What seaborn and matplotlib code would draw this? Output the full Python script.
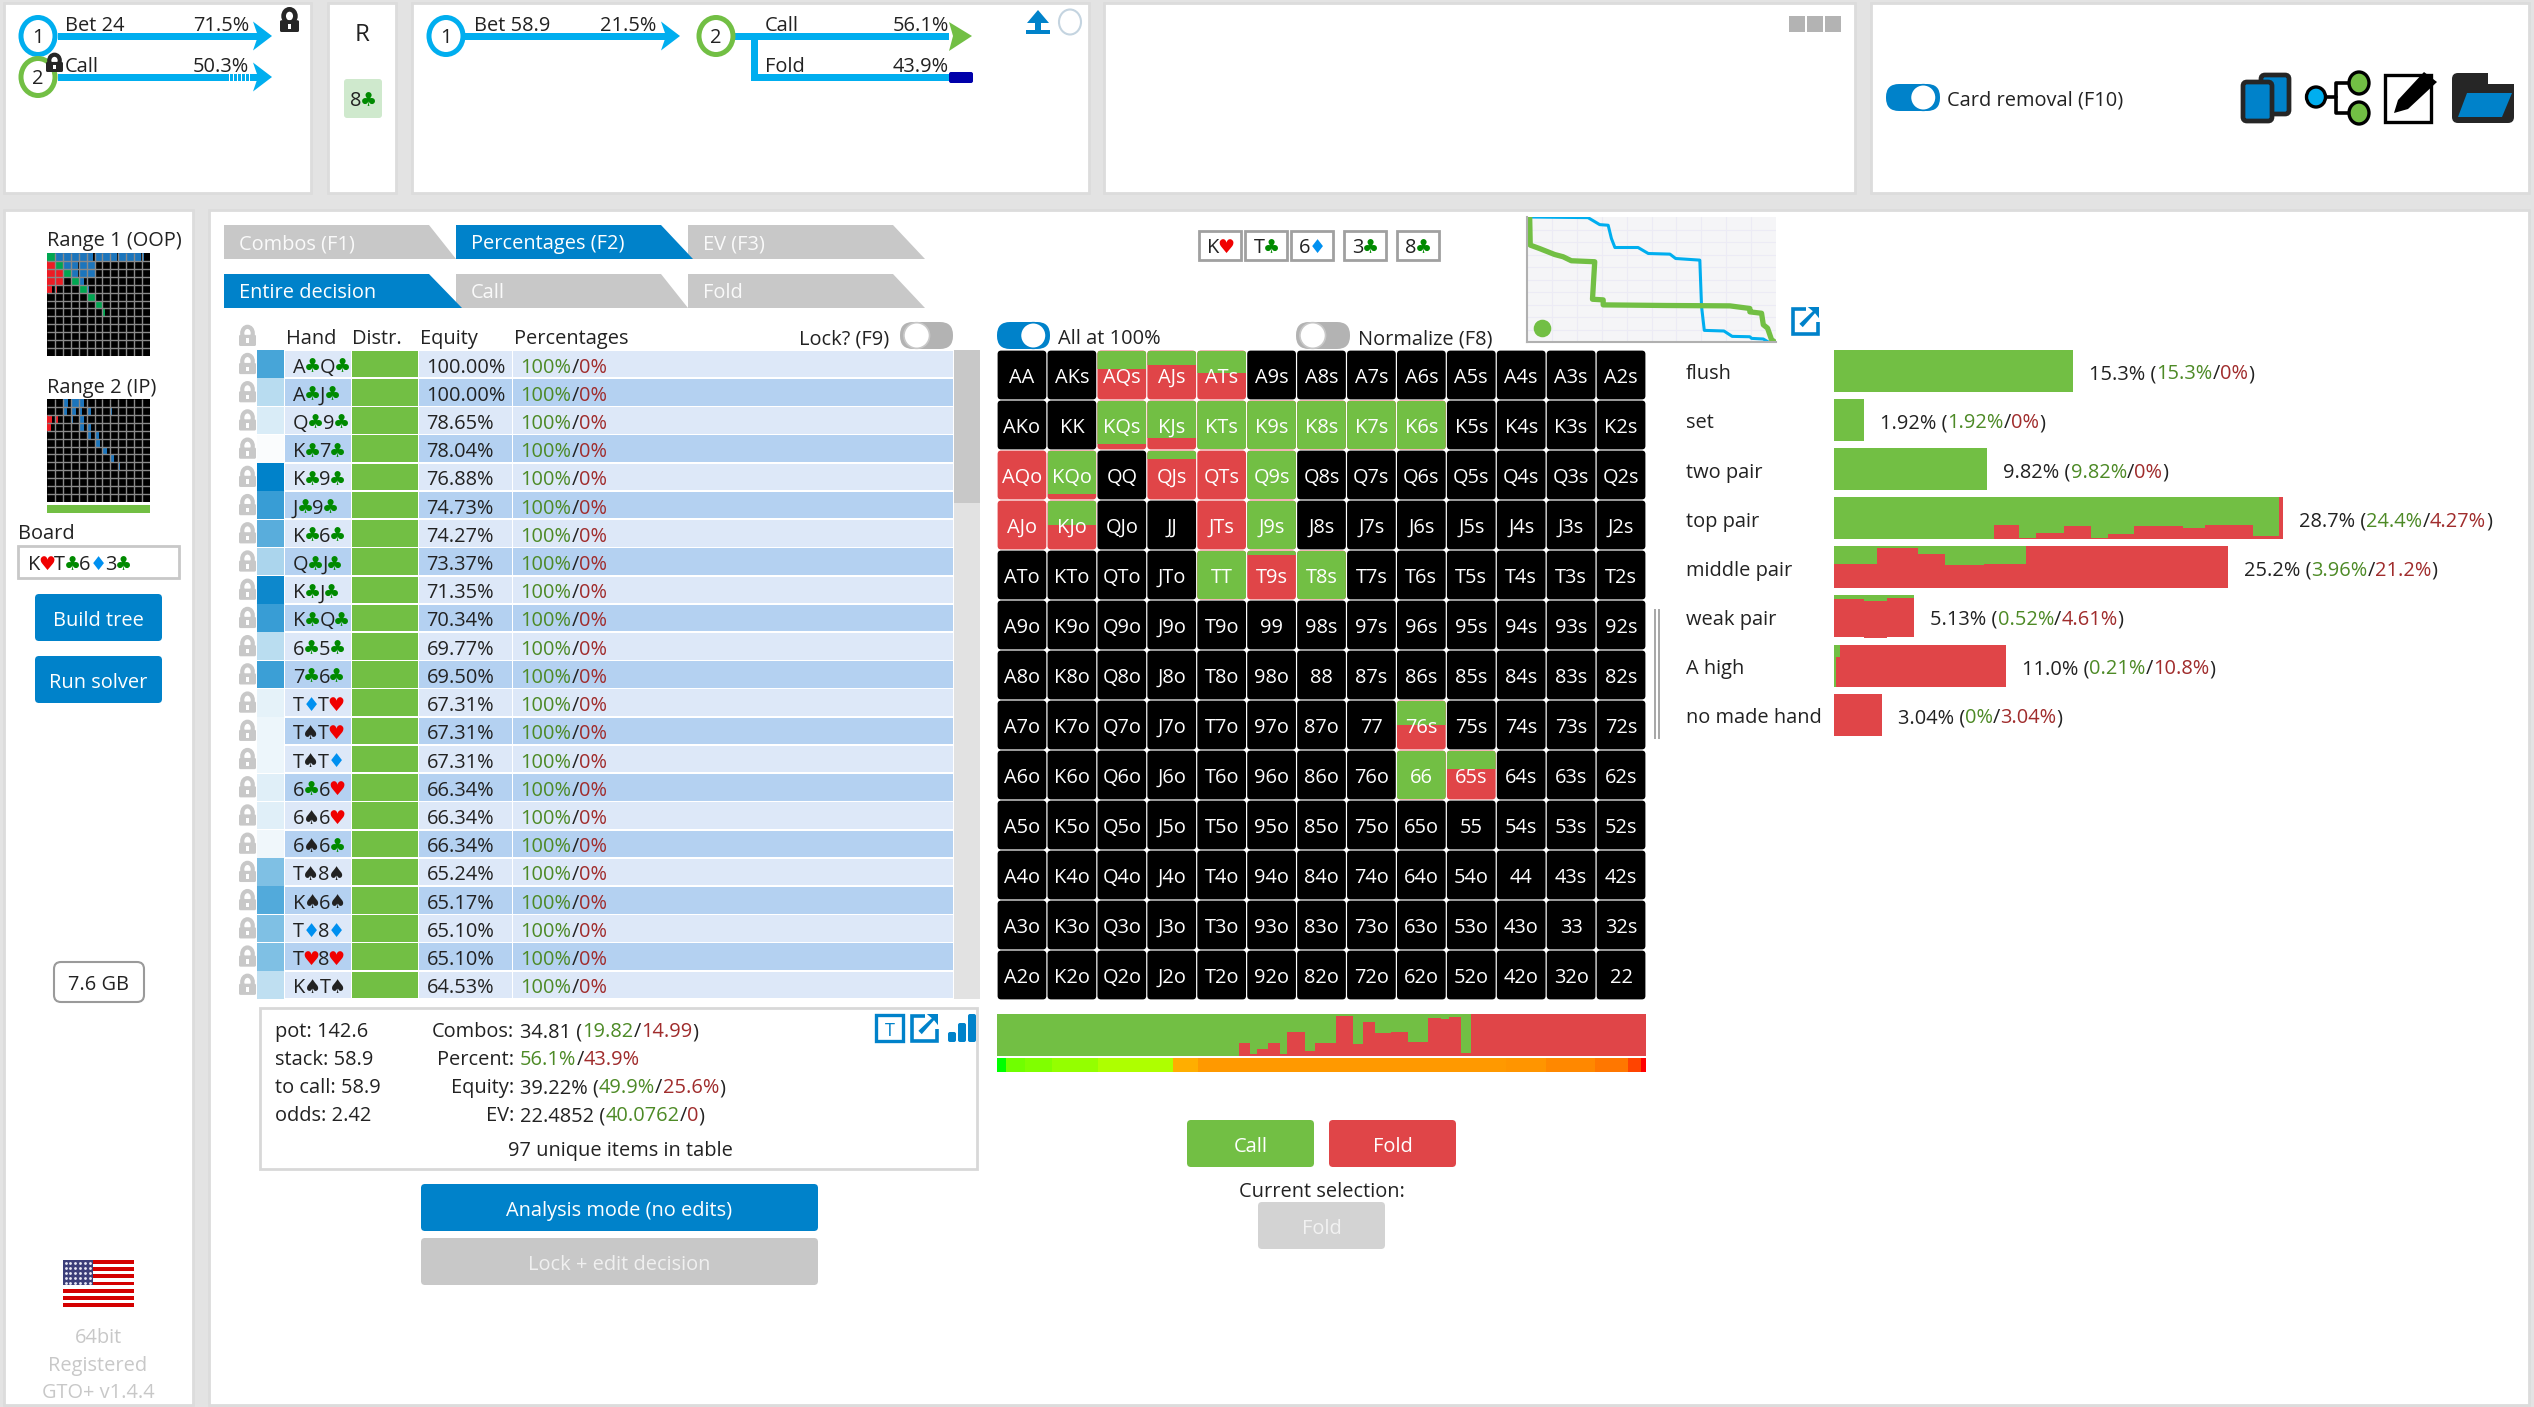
import numpy as np
import matplotlib
matplotlib.use("Agg")
import matplotlib.pyplot as plt
import seaborn as sns
from matplotlib.patches import Rectangle, FancyBboxPatch, Polygon, Ellipse
from matplotlib.colors import ListedColormap

# ---------------- data ----------------
ranks = list("AKQJT98765432")
call_share = {(0,2):.37,(0,3):.30,(0,4):.45,(1,2):.88,(1,3):.76,(1,4):1,(1,5):1,(1,6):1,(1,7):1,(1,8):1,
              (2,0):0,(2,1):.88,(2,3):.18,(2,4):0,(2,5):1,(3,0):0,(3,1):.49,(3,4):0,(3,5):1,
              (4,4):1,(4,5):.08,(4,6):1,(7,8):.49,(8,8):1,(8,9):.38}
hands = ["A♣Q♣","A♣J♣","Q♣9♣","K♣7♣","K♣9♣","J♣9♣","K♣6♣","Q♣J♣","K♣J♣","K♣Q♣","6♣5♣","7♣6♣",
         "T♦T♥","T♠T♥","T♠T♦","6♣6♥","6♠6♥","6♠6♣","T♠8♠","K♠6♠","T♦8♦","T♥8♥","K♠T♠"]
equities = ["100.00%","100.00%","78.65%","78.04%","76.88%","74.73%","74.27%","73.37%","71.35%","70.34%",
            "69.77%","69.50%","67.31%","67.31%","67.31%","66.34%","66.34%","66.34%","65.24%","65.17%",
            "65.10%","65.10%","64.53%"]
hand_weight = [.72,.28,.15,.02,1.0,.78,.65,.33,.95,.78,.27,.77,.10,.07,.07,.12,.12,.06,.50,.68,.50,.50,.25]
hand_pct = ["100%/0%"] * len(hands)

cat_names = ["flush","set","two pair","top pair","middle pair","weak pair","A high","no made hand"]
cat_total = ["15.3%","1.92%","9.82%","28.7%","25.2%","5.13%","11.0%","3.04%"]
cat_call = ["15.3%","1.92%","9.82%","24.4%","3.96%","0.52%","0.21%","0%"]
cat_fold = ["0%","0%","0%","4.27%","21.2%","4.61%","10.8%","3.04%"]
cat_edges = [[0,15.3],[0,1.92],[0,9.82],
             [0,10.24,11.86,12.94,14.71,16.44,17.52,19.18,22.32,23.76,26.83,28.49,28.74],
             [0,2.78,5.37,7.07,9.59,12.26,25.2],[0,1.95,3.39,5.13],[0,.14,.4,11.0],[0,3.04]]
cat_red = [[0],[0],[0],[0,.33,.04,.16,.31,.04,.12,.31,.28,.33,.07,1],
           [.59,.96,.81,.55,.59,1],[.92,.88,.93],[0,.7,1],[1]]

strat_edges = [0,37.3,39.0,40.0,41.7,43.6,44.7,47.4,49.0,52.2,54.9,56.4,58.2,60.7,63.3,66.4,68.4,69.7,71.5,73.0,100]
strat_red = [0,.32,.04,.16,.30,.04,.58,.11,.31,.95,.28,.81,.55,.58,.33,.90,.88,.93,.07,1]
eq_edges = [0,1.4,4.3,8.4,15.6,27.1,30.9,78.4,84.6,92.1,97.3,99.2,100]
eq_colors = ["#00ff00","#70ff00","#80ff00","#94ff00","#aeff00","#ffae00","#ff9900","#ff9500","#ff8800","#ff7700","#ff4400","#ff0000"]

curve_blue_x = [1.07,24.5,29.2,32.6,33.9,35.3,44.6,48.7,57.4,59.7,69.4,70.1,71.2,79.1,82.4,89.5,90.2,94.9,96.9]
curve_blue_y = [100,99.5,93.9,93.4,82.8,75.6,75.6,70.8,70.3,66.8,65.5,28.4,9.3,8.8,4.5,4.2,2.9,2.4,0]
curve_green_x = [1.07,1.3,5.0,11.1,14.5,17.8,27.2,26.3,30.6,30.6,56,81.5,89.5,89.5,94.2,94.9,96.6,98.2,99.5]
curve_green_y = [100,77.5,74.8,70,68.2,65,64.2,34.2,33.7,29.7,29.2,28.9,26.8,24.1,23,13.8,11.1,1.9,0]

range1 = np.zeros((13,13))
range1[0,:] = [1,1,1,1,1,.85,1,1,.8,1,1,.85,.3]
range1[1,:9] = [1,1,1,.9,1,1,0,0,.1]
range1[2,:6] = [1,1,1,.85,1,1]
range1[3,:5] = [1,1,.1,1,.7]
range1[4,:6] = [.65,.25,0,.2,1,.3]
range1[5,5] = 1; range1[6,6] = 1; range1[7,7] = .3; range1[8,8] = .1
range2 = np.zeros((13,13))
range2[0,:5] = [0,0,.65,1,.65]
range2[1,:9] = [0,0,.5,.6,.4,.6,.15,.1,.25]
range2[2,:6] = [.65,.4,0,.25,.65,.1]
range2[3,:6] = [.55,.1,0,0,.65,.6]
range2[4,4:7] = [.1,.5,.5]
range2[5,5:7] = [.2,.65]
range2[6,6:8] = [.2,.55]
range2[7,8] = .5
range2[8,8:10] = [.1,.25]

# ---------------- style ----------------
W, H = 2534, 1407
BLUE = "#0082ca"; SKY = "#00aeef"; GREEN = "#72bf44"; RED = "#e04548"
INK = "#222222"; TG = "#4d8a26"; TR = "#a02c2c"; GRAY = "#c8c8c8"
FS = 20
sns.set_theme(style="white")
plt.rcParams["font.family"] = ["Open Sans", "DejaVu Sans"]
fig = plt.figure(figsize=(W/100, H/100), dpi=100, facecolor="#e3e3e3")
renderer = fig.canvas.get_renderer()

def axes_px(x0, y0, x1, y1, z=1):
    ax = fig.add_axes([x0/W, 1-y1/H, (x1-x0)/W, (y1-y0)/H], zorder=z)
    ax.axis("off")
    return ax

bg = axes_px(0,0,W,H,0); bg.set_xlim(0,W); bg.set_ylim(H,0)
fg = axes_px(0,0,W,H,5); fg.set_xlim(0,W); fg.set_ylim(H,0); fg.patch.set_alpha(0)

def T(x, yc, s, size=FS, color=INK, ha="left", ax=fg):
    return ax.text(x, yc+0.42*size, s, fontsize=size*0.72, color=color, ha=ha, va="baseline", zorder=10)

SUIT = {"♣":"#008a00","♥":"#f00000","♦":"#0090f0","♠":"#222222"}

_cache = {}
def width(s, size=FS):
    if s in SUIT:
        return size*0.70
    k = (s,size)
    if k not in _cache:
        def m(u):
            t = fg.text(0,0,u,fontsize=size*0.72); w = t.get_window_extent(renderer).width; t.remove(); return w
        _cache[k] = m("x"+s+"x") - m("xx")
    return _cache[k]

def rich(x, yc, parts, size=FS, ha="left"):
    if ha == "right":
        x -= sum(width(s,size) for s,_ in parts)
    elif ha == "center":
        x -= sum(width(s,size) for s,_ in parts)/2
    for s,c in parts:
        if s in SUIT:
            T(x+size*.35,yc,s,size*.96,c,ha="center")
        else:
            T(x,yc,s,size,c)
        x += width(s,size)

def hand_parts(h):
    return [(c, SUIT.get(c,INK)) for c in h]

def rect(x0,y0,x1,y1,c,ax=bg,ec="none",lw=0,z=1):
    p = Rectangle((x0,y0),x1-x0,y1-y0,fc=c,ec=ec,lw=lw,zorder=z); ax.add_patch(p); return p
def rrect(x0,y0,x1,y1,c,r=4,ax=bg,ec="none",lw=0,z=1):
    p = FancyBboxPatch((x0,y0),x1-x0,y1-y0,boxstyle=f"round,pad=0,rounding_size={r}",fc=c,ec=ec,lw=lw,zorder=z)
    ax.add_patch(p); return p
def poly(pts,c,ax=bg,z=2,ec="none",lw=0):
    p = Polygon(pts,closed=True,fc=c,ec=ec,lw=lw,zorder=z); ax.add_patch(p); return p
def ring(cx,cy,w,h,c,lw=3.6,fc="white",ax=bg,z=3):
    p = Ellipse((cx,cy),w,h,fc=fc,ec=c,lw=lw,zorder=z); ax.add_patch(p); return p

def lock(x0,y0,x1,y1,c,open_=False,ax=bg,z=4,hole="white"):
    w,h = x1-x0,y1-y0
    dy = -0.12*h if open_ else 0
    ring((x0+x1)/2,y0+.36*h+dy,w*.62,h*.64,c,lw=3.0*w/17,fc="none",ax=ax,z=z)
    rrect(x0,y0+.44*h,x1,y1,c,r=1.5,ax=ax,z=z+1)
    rect((x0+x1)/2-w*.06,y0+.62*h,(x0+x1)/2+w*.06,y0+.85*h,hole,ax=ax,z=z+2)

def toggle(x0,y0,x1,y1,on):
    h=y1-y0
    rrect(x0,y0,x1,y1,BLUE if on else "#b3b3b3",r=h/2-.5)
    cx = x1-h*.62 if on else x0+h*.62
    ring(cx,(y0+y1)/2,h*.95,h*.95,BLUE if on else "#c8c8c8",lw=1.2)

def button(x0,y0,x1,y1,c,s,tc="white"):
    rrect(x0,y0,x1,y1,c,r=4)
    T((x0+x1)/2,(y0+y1)/2,s,color=tc,ha="center")

def arrow_line(x0,x1,y,head=True,hc=SKY):
    rect(x0,y-3.5,x1,y+3.5,SKY,z=2)
    if head:
        poly([(x1-7,y-14.5),(x1+12,y),(x1-7,y+14.5),(x1-2,y)],hc)

# ---------------- panels ----------------
for x0,y0,x1,y1 in [(4,3,311,193),(328,3,396,193),(412,3,1089,193),(1104,3,1855,193),(1871,3,2529,193),
                    (4,210,193,1405),(209,210,2529,1405)]:
    rect(x0,y0,x1,y1,"white",ec="#dcdcdc",lw=2,z=0.5)

# ---------------- top tree panel ----------------
arrow_line(58,260,36); arrow_line(58,260,77)
for xx in np.arange(229,252,4):
    rect(xx,73,xx+1,81,"white",z=3)
ring(38,36,34,37,SKY); ring(38,77,34,37,GREEN)
T(38,35,"1",ha="center"); T(38,76,"2",ha="center")
T(65,23,"Bet 24"); T(249,23,"71.5%",ha="right")
T(65,64,"Call"); T(249,64,"50.3%",ha="right")
lock(280,11,299,32,"#262626",open_=True)
lock(46,54,63,72,"#262626")

T(362,31,"R",size=24,ha="center")
rrect(344,79,382,118,"#cfe9cd",r=3)
rich(363,98,hand_parts("8♣"),ha="center")

arrow_line(465,668,36)
ring(446,36,34,37,SKY); T(446,35,"1",ha="center")
T(474,23,"Bet 58.9"); T(656,23,"21.5%",ha="right")
rect(735,32.5,949,39.5,SKY,z=2)
rect(751,36,758,80,SKY,z=2); rect(751,73.5,949,80.5,SKY,z=2)
poly([(949,22),(972,36),(949,51),(953,36)],GREEN)
rrect(949,72,973,83,"#0000aa",r=2)
ring(716,36,34,37,GREEN); T(716,35,"2",ha="center")
T(765,23,"Call"); T(949,23,"56.1%",ha="right")
T(765,64,"Fold"); T(949,64,"43.9%",ha="right")
poly([(1038,10),(1049,23),(1041,23),(1041,30),(1050,30),(1050,34),(1026,34),(1026,30),(1035,30),(1035,23),(1027,23)],BLUE)
ring(1070,22,22,25,"#c4d4e0",lw=1.5)

for x in (1789,1807,1825):
    rect(x,16,x+16,32,"#b3b3b3")
toggle(1886,84,1940,111,True)
T(1947,97,"Card removal (F10)")

# icons
rrect(2261,75,2289,114,BLUE,r=4,ec="#262626",lw=3.4,z=2)
rrect(2243,82,2272,121,BLUE,r=4,ec="#262626",lw=3.4,z=3)
bg.plot([2316,2336,2336,2359],[97,97,83,83],color="black",lw=2.6,zorder=2)
bg.plot([2336,2336,2359],[97,113,113],color="black",lw=2.6,zorder=2)
ring(2316,97,19,20,"black",lw=2.4,fc=SKY); ring(2359,83,20,22,"black",lw=2.4,fc=GREEN); ring(2359,113,20,22,"black",lw=2.4,fc=GREEN)
rect(2385,75,2431,122,"white",ec="black",lw=2.4,z=2)
poly([(2394,113),(2398,100),(2424,72),(2437,82),(2408,109)],"black",z=3)
rrect(2452,73,2514,123,"#262626",r=6,z=2)
rect(2488,73,2516,84,"white",z=2.1)
poly([(2467,93),(2512,93),(2502,117),(2458,117)],BLUE,z=3)

# ---------------- left column ----------------
T(47,238,"Range 1 (OOP)"); T(47,385,"Range 2 (IP)")
for rng,(y0,y1) in zip((range1,range2),((253,356),(399,502))):
    ax = axes_px(47,y0,150,y1)
    sns.heatmap(np.zeros((13,13)),ax=ax,cmap=ListedColormap(["black"]),cbar=False,xticklabels=False,yticklabels=False)
    for i in range(13):
        for j in range(13):
            if rng[i,j] > 0:
                c = "#00a651" if i==j else ("#1c75bc" if j>i else "#ed1c24")
                ax.barh(i+.5,rng[i,j],left=j,height=1,color=c,lw=0)
    ax.hlines(range(1,13),0,13,color="#8a8a8a",lw=1); ax.vlines(range(1,13),0,13,color="#8a8a8a",lw=1)
    ax.set_xlim(0,13); ax.set_ylim(13,0); ax.axis("off")
rect(47,505,150,513,GREEN)
T(18,531,"Board")
rect(18,546,179,578,"white",ec="#c8c8c8",lw=2)
rich(28,562,hand_parts("K♥T♣6♦3♣"))
button(35,594,162,641,BLUE,"Build tree")
button(35,656,162,703,BLUE,"Run solver")
rrect(54,962,144,1002,"white",r=7,ec="#9a9a9a",lw=1.5)
T(99,982,"7.6 GB",ha="center")
# flag
for s in range(13):
    rect(63,1260+s*47/13,134,1260+(s+1)*47/13,"#d40000" if s%2==0 else "white")
rect(63,1260,93,1285,"#3c3f7a",z=2)
for row in range(5):
    for col in range(6):
        bg.plot(65.5+col*4.8,1263+row*5,".",color="#e8e8f4",ms=2,zorder=3)
T(98,1335,"64bit",color=GRAY,ha="center"); T(98,1363,"Registered",color=GRAY,ha="center"); T(98,1390,"GTO+ v1.4.4",color=GRAY,ha="center")

# ---------------- tabs ----------------
TABT = "#fafafa"
def tab(x0,xt,x1,y0,y1,c,s,tc):
    poly([(x0,y0),(xt,y0),(x1,y1),(x0,y1)],c)
    T(x0+15,(y0+y1)/2-1,s,color=tc)
tab(224,429,456,225,259,GRAY,"Combos (F1)",TABT)
tab(688,893,925,225,259,GRAY,"EV (F3)",TABT)
tab(456,661,693,225,259,BLUE,"Percentages (F2)","white")
tab(456,661,688,274,308,GRAY,"Call",TABT)
tab(688,893,925,274,308,GRAY,"Fold",TABT)
tab(224,429,462,274,308,BLUE,"Entire decision","white")

# ---------------- hand table ----------------
lock(239,326,256,346,"#c8c8c8")
T(285.5,336,"Hand"); T(352,336,"Distr."); T(420,336,"Equity"); T(514,336,"Percentages"); T(799,336,"Lock? (F9)")
toggle(900,322,953,349,False)
rect(954,350,980,999,"#e2e2e2"); rect(954,350,980,503,GRAY,z=1.5)
tb = axes_px(257,350,953,999)
tb.set_xlim(257,953); tb.set_ylim(len(hands),0)
rows = np.arange(len(hands))
band = ["#dde8f8" if i%2==0 else "#b4d1f1" for i in rows]
tb.barh(rows+.5,66,left=285,height=.94,color=band,lw=0)
tb.barh(rows+.5,66,left=352,height=.94,color=GREEN,lw=0)
tb.barh(rows+.5,93,left=419,height=.94,color=band,lw=0)
tb.barh(rows+.5,440,left=513,height=.94,color=band,lw=0)
for i,w in enumerate(hand_weight):
    tb.barh(i+.5,27,left=257,height=.98,color=BLUE,alpha=w,lw=0)
rh = 649/len(hands)
for i,(h,e,p) in enumerate(zip(hands,equities,hand_pct)):
    yc = 350+(i+.5)*rh
    lock(239,yc-10,256,yc+10,"#c8c8c8")
    rich(293,yc,hand_parts(h))
    T(426.5,yc,e)
    a,b = p.split("/")
    rich(520.5,yc,[(a,TG),("/",INK),(b,TR)])

# ---------------- info box ----------------
rect(260,1008,977,1169,"white",ec="#d8d8d8",lw=2)
for y,s in zip((1029,1057,1085,1113),("pot: 142.6","stack: 58.9","to call: 58.9","odds: 2.42")):
    T(275,y,s)
info = [("Combos:",[("34.81 (",INK),("19.82",TG),("/",INK),("14.99",TR),(")",INK)]),
        ("Percent:",[("56.1%",TG),("/",INK),("43.9%",TR)]),
        ("Equity:",[("39.22% (",INK),("49.9%",TG),("/",INK),("25.6%",TR),(")",INK)]),
        ("EV:",[("22.4852 (",INK),("40.0762",TG),("/",INK),("0",TR),(")",INK)])]
for y,(lab,parts) in zip((1029,1057,1085,1113),info):
    T(514,y,lab,ha="right"); rich(520,y,parts)
T(620,1148,"97 unique items in table",ha="center")
rect(876,1015,903,1041,"white",ec=BLUE,lw=2.4,z=2); T(889.5,1028,"T",size=18,color=BLUE,ha="center")
def newwin(x0,y0,x1,y1):
    rect(x0+1.5,y0+1.5,x1-1.5,y1-1.5,"white",ec=BLUE,lw=2.6,z=2)
    rect(x0+.55*(x1-x0),y0-1,x1+1,y0+.55*(y1-y0),"white",z=2.1)
    poly([(x0+.6*(x1-x0),y0),(x1,y0),(x1,y0+.4*(y1-y0)),(x1-4,y0+.22*(y1-y0)),(x0+.42*(x1-x0),y0+.72*(y1-y0)),(x0+.3*(x1-x0),y0+.6*(y1-y0)),(x0+.78*(x1-x0),y0+.15*(y1-y0))],BLUE,z=2.2)
newwin(910,1014,938,1042); newwin(1791,307,1819,335)
for x,(t) in zip((948,958,968),(1032,1023,1014)):
    rrect(x,t,x+8,1042,BLUE,r=2)
button(421,1184,818,1231,BLUE,"Analysis mode (no edits)")
button(421,1238,818,1285,GRAY,"Lock + edit decision","#f0f0f0")

# ---------------- 13x13 grid ----------------
toggle(997,322,1050,349,True); T(1058.5,336,"All at 100%")
toggle(1296,322,1350,349,False); T(1358,336,"Normalize (F8)")
for x0,h in zip((1198,1244,1290,1343,1396),("K♥","T♣","6♦","3♣","8♣")):
    rect(x0+1,231,x0+43,259.5,"white",ec="#a0a0a0",lw=2)
    rich(x0+22,245,hand_parts(h),ha="center")
rect(1654,609,1656,739,"#a8a8a8"); rect(1658,609,1660,739,"#a8a8a8")
gr = axes_px(997,350,1646,1000)
gr.set_xlim(0,13); gr.set_ylim(13,0)
for i,a in enumerate(ranks):
    for j,b in enumerate(ranks):
        lab = a+b if i==j else (a+b+"s" if j>i else b+a+"o")
        share = call_share.get((i,j))
        base = "black" if share is None else RED
        clip = FancyBboxPatch((j+.012,i+.012),.976,.976,boxstyle="round,pad=0,rounding_size=.07",fc=base,ec="none",mutation_aspect=1)
        gr.add_patch(clip)
        if share:
            b_ = gr.bar(j+.5,share*.976,bottom=i+.012,width=.976,color=GREEN,lw=0)
            b_[0].set_clip_path(clip)
        T(997+(j+.5)*649/13,350+(i+.5)*50-.5,lab,color="white",ha="center")

# ---------------- strategy bars ----------------
sb = axes_px(997,1014,1646,1056)
sb.set_xlim(0,100); sb.set_ylim(0,1)
sb.bar(0,1,width=100,align="edge",color=GREEN,lw=0)
sb.bar(strat_edges[:-1],strat_red,width=np.diff(strat_edges),align="edge",color=RED,lw=0)
eb = axes_px(997,1058,1646,1072)
eb.set_xlim(0,100); eb.set_ylim(0,1)
eb.bar(eq_edges[:-1],1,width=np.diff(eq_edges),align="edge",color=eq_colors,lw=0)
button(1187,1120,1314,1167,GREEN,"Call")
button(1329,1120,1456,1167,RED,"Fold")
T(1321.5,1189,"Current selection:",ha="center")
button(1258,1202,1385,1249,"#d3d3d3","Fold","#f2f2f2")

# ---------------- equity curve ----------------
cv = axes_px(1527,217,1776,342)
cv.axis("on"); cv.set_facecolor("#f5f5f7")
for s in ("top","right"):
    cv.spines[s].set_visible(False)
for s in ("left","bottom"):
    cv.spines[s].set_visible(True); cv.spines[s].set_color("#b0b0b0"); cv.spines[s].set_linewidth(1.5)
cv.set_xlim(0,100); cv.set_ylim(0,100)
cv.set_xticks(np.arange(10,100,10)); cv.set_yticks(np.arange(10,100,10))
cv.set_xticklabels([]); cv.set_yticklabels([]); cv.tick_params(length=0)
cv.grid(True,color="#ecebf5",lw=.8)
sns.lineplot(x=curve_blue_x,y=curve_blue_y,sort=False,estimator=None,color=SKY,lw=2.2,ax=cv,clip_on=True)
sns.lineplot(x=curve_green_x,y=curve_green_y,sort=False,estimator=None,color=GREEN,lw=3.8,ax=cv,clip_on=True)
cv.scatter([6],[11],s=160,color=GREEN,lw=0,zorder=5)

# ---------------- hand category bars ----------------
PX = 15.63; ROW = 49.1
cb = axes_px(1834,350,2520,350+8*ROW)
cb.set_xlim(0,(2520-1834)/PX); cb.set_ylim(8,0)
BH = 42/ROW
for i,(name,tot,c,f,ed,rd) in enumerate(zip(cat_names,cat_total,cat_call,cat_fold,cat_edges,cat_red)):
    cb.bar(0,BH,width=ed[-1],bottom=i,align="edge",color=GREEN,lw=0)
    hs = np.array(rd)*BH
    cb.bar(ed[:-1],hs,width=np.diff(ed),bottom=i+BH-hs,align="edge",color=RED,lw=0)
    yc = 350+(i+BH/2)*ROW
    T(1686,yc,name)
    rich(1834+ed[-1]*PX+16,yc,[(tot+" (",INK),(c,TG),("/",INK),(f,TR),(")",INK)])

fig.savefig("out.png",dpi=100,facecolor=fig.get_facecolor())
